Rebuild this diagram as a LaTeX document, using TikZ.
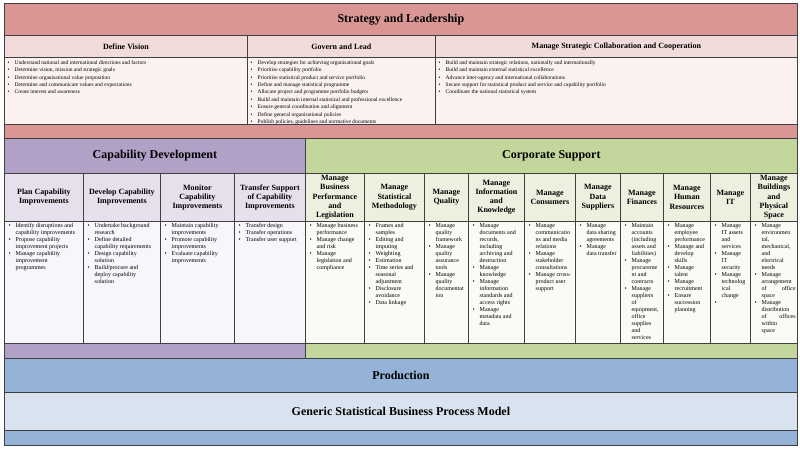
\documentclass[tikz,border=0pt]{standalone}
\usepackage{fontspec}
\setmainfont{Liberation Serif}
\usepackage{tikz}

\definecolor{edge}{HTML}{404040}
\definecolor{slband}{HTML}{D99694}
\definecolor{slhead}{HTML}{F2DCDB}
\definecolor{slcell}{HTML}{FBF1F1}
\definecolor{cdband}{HTML}{B2A1C7}
\definecolor{cdhead}{HTML}{E5E0EC}
\definecolor{cdcell}{HTML}{F7F6FA}
\definecolor{csband}{HTML}{C3D69B}
\definecolor{cshead}{HTML}{EBF1DE}
\definecolor{cscell}{HTML}{FAFBF5}
\definecolor{prband}{HTML}{95B3D7}
\definecolor{gsband}{HTML}{D9E3F0}

\tikzset{
	bandbox/.style  = {draw=edge, line width=0.8pt, rectangle, anchor=north west, inner sep=0pt, font=\bfseries\fontsize{12}{14}\selectfont},
	headbox/.style  = {draw=edge, line width=0.8pt, rectangle, anchor=north west, inner sep=0pt, align=center, font=\bfseries\fontsize{8}{9.2}\selectfont},
	cellbox/.style  = {draw=edge, line width=0.8pt, rectangle, anchor=north west, inner sep=0pt},
	itembox/.style  = {anchor=base west, inner sep=0pt, font=\fontsize{6}{7}\selectfont},
	topitems/.style = {itembox, font=\fontsize{5.5}{7.4}\selectfont},
	wh/.style 2 args = {minimum width=#1pt, minimum height=#2pt},
}

\newcommand{\itm}{\par\hangindent=7pt\hangafter=1\noindent\makebox[7pt][l]{\textbullet}\ignorespaces}
\newcommand{\nl}{\hfil\break}
\newcommand{\itemlist}[2]{\parbox[t]{#1pt}{\hbadness=10000 #2}}

\begin{document}
\begin{tikzpicture}[x=1pt, y=-1pt]
		\useasboundingbox (0,0) rectangle (800,448);

		% Strategy and leadership
		\node[bandbox, fill=slband, wh={793}{32}] (strategy) at (4,3) {Strategy and Leadership};
		\node[headbox, fill=slhead, wh={243}{22}] (vision) at (4,35) {Define Vision};
		\node[headbox, fill=slhead, wh={188}{22}] (govern) at (247,35) {Govern and Lead};
		\node[headbox, fill=slhead, wh={362}{22}] (collab) at (435,35) {Manage Strategic Collaboration and Cooperation};
		\node[cellbox, fill=slcell, wh={243}{67}] (vision-c) at (4,57) {};
		\node[cellbox, fill=slcell, wh={188}{67}] (govern-c) at (247,57) {};
		\node[cellbox, fill=slcell, wh={362}{67}] (collab-c) at (435,57) {};

		\node[topitems] (vision-l) at (7.5,64.2) {\itemlist{236}{%
			\itm Understand national and international directions and factors
			\itm Determine vision, mission and strategic goals
			\itm Determine organisational value proposition
			\itm Determine and communicate values and expectations
			\itm Create interest and awareness}};
		\node[topitems] (govern-l) at (250.5,64.2) {\itemlist{181}{%
			\itm Develop strategies for achieving organisational goals
			\itm Prioritise capability portfolio
			\itm Prioritise statistical product and service portfolio
			\itm Define and manage statistical programme
			\itm Allocate project and programme portfolio budgets
			\itm Build and maintain internal statistical and professional excellence
			\itm Ensure general coordination and alignment
			\itm Define general organisational policies
			\itm Publish policies, guidelines and normative documents}};
		\node[topitems] (collab-l) at (438.5,64.2) {\itemlist{355}{%
			\itm Build and maintain strategic relations, nationally and internationally
			\itm Build and maintain external statistical excellence
			\itm Advance inter-agency and international collaborations
			\itm Secure support for statistical product and service and capability portfolio
			\itm Coordinate the national statistical system}};

		\node[cellbox, fill=slband, wh={793}{14}] (strategy-s) at (4,124) {};

		% Capability development
		\node[bandbox, fill=cdband, wh={301}{35}] (capdev) at (4,138) {Capability Development};
		\node[headbox, fill=cdhead, wh={79}{48}] (plan) at (4,173) {Plan Capability\\Improvements};
		\node[headbox, fill=cdhead, wh={77}{48}] (develop) at (83,173) {Develop Capability\\Improvements};
		\node[headbox, fill=cdhead, wh={74}{48}] (monitor) at (160,173) {Monitor\\Capability\\Improvements};
		\node[headbox, fill=cdhead, wh={71}{48}] (transfer) at (234,173) {Transfer Support\\of Capability\\Improvements};
		\node[cellbox, fill=cdcell, wh={79}{122}] (plan-c) at (4,221) {};
		\node[cellbox, fill=cdcell, wh={77}{122}] (develop-c) at (83,221) {};
		\node[cellbox, fill=cdcell, wh={74}{122}] (monitor-c) at (160,221) {};
		\node[cellbox, fill=cdcell, wh={71}{122}] (transfer-c) at (234,221) {};

		\node[itembox] (plan-l) at (8.5,227.6) {\itemlist{72}{%
			\itm Identify disruptions and\nl capability improvements
			\itm Propose capability\nl improvement projects
			\itm Manage capability\nl improvement\nl programmes}};
		\node[itembox] (develop-l) at (87.5,227.6) {\itemlist{70}{%
			\itm Undertake background\nl research
			\itm Define detailed\nl capability requirements
			\itm Design capability\nl solution
			\itm Build/procure and\nl deploy capability\nl solution}};
		\node[itembox] (monitor-l) at (164.5,227.6) {\itemlist{67}{%
			\itm Maintain capability\nl improvements
			\itm Promote capability\nl improvements
			\itm Evaluate capability\nl improvements}};
		\node[itembox] (transfer-l) at (238.5,227.6) {\itemlist{64}{%
			\itm Transfer design
			\itm Transfer operations
			\itm Transfer user support}};

		% Corporate support
		\node[bandbox, fill=csband, wh={492}{35}] (corp) at (305,138) {Corporate Support};
		\node[headbox, fill=cshead, wh={59}{48}] (busi) at (305,173) {Manage\\Business\\Performance\\and\\Legislation};
		\node[headbox, fill=cshead, wh={60}{48}] (meth) at (364,173) {Manage\\Statistical\\Methodology};
		\node[headbox, fill=cshead, wh={44}{48}] (qual) at (424,173) {Manage\\Quality};
		\node[headbox, fill=cshead, wh={56}{48}] (info) at (468,173) {Manage\\Information\\and\\Knowledge};
		\node[headbox, fill=cshead, wh={51}{48}] (cons) at (524,173) {Manage\\Consumers};
		\node[headbox, fill=cshead, wh={45}{48}] (supp) at (575,173) {Manage\\Data\\Suppliers};
		\node[headbox, fill=cshead, wh={43}{48}] (fin) at (620,173) {Manage\\Finances};
		\node[headbox, fill=cshead, wh={47}{48}] (hr) at (663,173) {Manage\\Human\\Resources};
		\node[headbox, fill=cshead, wh={40}{48}] (it) at (710,173) {Manage\\IT};
		\node[headbox, fill=cshead, wh={47}{48}] (bldg) at (750,173) {Manage\\Buildings\\and\\Physical\\Space};
		\node[cellbox, fill=cscell, wh={59}{122}] (busi-c) at (305,221) {};
		\node[cellbox, fill=cscell, wh={60}{122}] (meth-c) at (364,221) {};
		\node[cellbox, fill=cscell, wh={44}{122}] (qual-c) at (424,221) {};
		\node[cellbox, fill=cscell, wh={56}{122}] (info-c) at (468,221) {};
		\node[cellbox, fill=cscell, wh={51}{122}] (cons-c) at (524,221) {};
		\node[cellbox, fill=cscell, wh={45}{122}] (supp-c) at (575,221) {};
		\node[cellbox, fill=cscell, wh={43}{122}] (fin-c) at (620,221) {};
		\node[cellbox, fill=cscell, wh={47}{122}] (hr-c) at (663,221) {};
		\node[cellbox, fill=cscell, wh={40}{122}] (it-c) at (710,221) {};
		\node[cellbox, fill=cscell, wh={47}{122}] (bldg-c) at (750,221) {};

		\node[itembox] (busi-l) at (309.5,227.6) {\itemlist{53}{%
			\itm Manage business\nl performance
			\itm Manage change\nl and risk
			\itm Manage\nl legislation and\nl compliance}};
		\node[itembox] (meth-l) at (368.5,227.6) {\itemlist{54}{%
			\itm Frames and\nl samples
			\itm Editing and\nl imputing
			\itm Weighting
			\itm Estimation
			\itm Time series and\nl seasonal\nl adjustment
			\itm Disclosure\nl avoidance
			\itm Data linkage}};
		\node[itembox] (qual-l) at (428.5,227.6) {\itemlist{38}{%
			\itm Manage\nl quality\nl framework
			\itm Manage\nl quality\nl assurance\nl tools
			\itm Manage\nl quality\nl documentat\nl ion}};
		\node[itembox] (info-l) at (472.5,227.6) {\itemlist{50}{%
			\itm Manage\nl documents and\nl records,\nl including\nl archiving and\nl destruction
			\itm Manage\nl knowledge
			\itm Manage\nl information\nl standards and\nl access rights
			\itm Manage\nl metadata and\nl data}};
		\node[itembox] (cons-l) at (528.5,227.6) {\itemlist{45}{%
			\itm Manage\nl communicatio\nl ns and media\nl relations
			\itm Manage\nl stakeholder\nl consultations
			\itm Manage cross-\nl product user\nl support}};
		\node[itembox] (supp-l) at (579.5,227.6) {\itemlist{39}{%
			\itm Manage\nl data sharing\nl agreements
			\itm Manage\nl data transfer}};
		\node[itembox] (fin-l) at (624.5,227.6) {\itemlist{37}{%
			\itm Maintain\nl accounts\nl (including\nl assets and\nl liabilities)
			\itm Manage\nl procureme\nl nt and\nl contracts
			\itm Manage\nl suppliers\nl of\nl equipment,\nl office\nl supplies\nl and\nl services}};
		\node[itembox] (hr-l) at (667.5,227.6) {\itemlist{41}{%
			\itm Manage\nl employee\nl performance
			\itm Manage and\nl develop\nl skills
			\itm Manage\nl talent
			\itm Manage\nl recruitment
			\itm Ensure\nl succession\nl planning}};
		\node[itembox] (it-l) at (714.5,227.6) {\itemlist{34}{%
			\itm Manage\nl IT assets\nl and\nl services
			\itm Manage\nl IT\nl security
			\itm Manage\nl technolog\nl ical\nl change
			\itm \mbox{}}};
		\node[itembox] (bldg-l) at (754.5,227.6) {\itemlist{41}{%
			\itm Manage\nl environmen\nl tal,\nl mechanical,\nl and\nl electrical\nl needs
			\itm Manage\nl arrangement\nl of\hfill office\nl space
			\itm Manage\nl distribution\nl of\hfill offices\nl within\nl space}};

		% Strips and production layers
		\node[cellbox, fill=cdband, wh={301}{15}] (capdev-s) at (4,343) {};
		\node[cellbox, fill=csband, wh={492}{15}] (corp-s) at (305,343) {};
		\node[bandbox, fill=prband, wh={793}{34}] (production) at (4,358) {Production};
		\node[bandbox, fill=gsband, wh={793}{38}] (gsbpm) at (4,392) {Generic Statistical Business Process Model};
		\node[cellbox, fill=prband, wh={793}{15}] (production-s) at (4,430) {};
	\end{tikzpicture}
\end{document}
